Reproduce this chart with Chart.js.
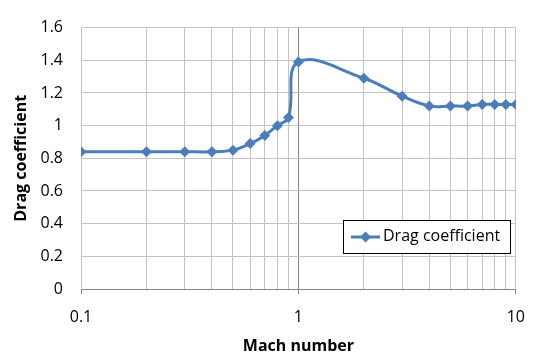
<!DOCTYPE html>
<html>
<head>
<meta charset="utf-8">
<script src="https://cdn.jsdelivr.net/npm/chart.js@4/dist/chart.umd.min.js"></script>
<style>
  html, body { margin: 0; padding: 0; background: #fff; }
  #wrap { width: 539px; height: 358px; }
</style>
</head>
<body>
<div id="wrap"><canvas id="dragChart" width="539" height="358"></canvas></div>
<script>
// Data
const machNumbers = [0.1, 0.2, 0.3, 0.4, 0.5, 0.6, 0.7, 0.8, 0.9, 1, 2, 3, 4, 5, 6, 7, 8, 9, 10];
const dragCoefficients = [0.84, 0.84, 0.84, 0.84, 0.85, 0.89, 0.94, 1.0, 1.05, 1.39, 1.29, 1.18, 1.12, 1.12, 1.12, 1.13, 1.13, 1.13, 1.13];
const xGridValues = [0.1, 0.2, 0.3, 0.4, 0.5, 0.6, 0.7, 0.8, 0.9, 1, 2, 3, 4, 5, 6, 7, 8, 9, 10];
const xLabelValues = [0.1, 1, 10];
const yTicks = [0, 0.2, 0.4, 0.6, 0.8, 1, 1.2, 1.4, 1.6];

const FONT = '"Open Sans", "Noto Sans", sans-serif';
const BLUE = '#4A7EBB';

// Legend box inside the plot, bottom right
const boxLegend = {
  id: 'boxLegend',
  afterDraw(chart) {
    const ctx = chart.ctx;
    const ds = chart.data.datasets[0];
    const x = 343, y = 220, w = 167, h = 33;
    ctx.save();
    ctx.fillStyle = '#fff';
    ctx.fillRect(x, y, w, h);
    ctx.strokeStyle = '#000';
    ctx.lineWidth = 1;
    ctx.strokeRect(x + 0.5, y + 0.5, w, h);
    ctx.strokeStyle = BLUE;
    ctx.lineWidth = 3;
    ctx.beginPath();
    ctx.moveTo(351, y + 17);
    ctx.lineTo(380, y + 17);
    ctx.stroke();
    ctx.fillStyle = BLUE;
    ctx.beginPath();
    ctx.moveTo(365.5, y + 11.5);
    ctx.lineTo(371, y + 17);
    ctx.lineTo(365.5, y + 22.5);
    ctx.lineTo(360, y + 17);
    ctx.closePath();
    ctx.fill();
    ctx.fillStyle = '#000';
    ctx.font = '16px ' + FONT;
    ctx.textBaseline = 'middle';
    ctx.fillText(ds.label, 383, y + 16);
    ctx.restore();
  }
};

const ctx = document.getElementById('dragChart').getContext('2d');
window.dragChart = new Chart(ctx, {
  type: 'line',
  data: {
    datasets: [{
      label: 'Drag coefficient',
      data: machNumbers.map((m, i) => ({ x: m, y: dragCoefficients[i] })),
      borderColor: BLUE,
      backgroundColor: BLUE,
      borderWidth: 3,
      pointStyle: 'rectRot',
      pointRadius: 5.5,
      pointBorderWidth: 0,
      tension: 0.4,
      fill: false
    }]
  },
  options: {
    responsive: false,
    animation: false,
    layout: { padding: { left: 0, right: 20, top: 15, bottom: 0 } },
    plugins: {
      legend: { display: false },
      tooltip: { enabled: false }
    },
    scales: {
      x: {
        type: 'logarithmic',
        min: 0.1,
        max: 10,
        afterBuildTicks: scale => {
          scale.ticks = xGridValues.map(v => ({ value: v }));
        },
        afterFit: scale => { scale.height = 69; },
        ticks: {
          autoSkip: false,
          maxRotation: 0,
          padding: 14,
          color: '#000',
          font: { family: FONT, size: 16 },
          callback: v => xLabelValues.includes(v) ? String(v) : ''
        },
        grid: {
          color: c => c.tick && c.tick.value === 1 ? '#7f7f7f' : '#c3c3c3',
          tickColor: c => c.tick && xLabelValues.includes(c.tick.value) ? '#868686' : 'rgba(0,0,0,0)',
          tickLength: 5,
          lineWidth: 1
        },
        border: { color: '#868686', width: 1 },
        title: {
          display: true,
          text: 'Mach number',
          color: '#000',
          font: { family: FONT, size: 16, weight: 'bold' },
          padding: { top: 0, bottom: 2 }
        }
      },
      y: {
        min: 0,
        max: 1.6,
        afterBuildTicks: scale => {
          scale.ticks = yTicks.map(v => ({ value: v }));
        },
        afterFit: scale => { scale.width = 81; },
        ticks: {
          padding: 18,
          color: '#000',
          font: { family: FONT, size: 16 },
          callback: v => String(Math.round(v * 10) / 10)
        },
        grid: {
          color: '#c3c3c3',
          lineWidth: 1,
          drawTicks: false
        },
        border: { display: false },
        title: {
          display: true,
          text: 'Drag coefficient',
          color: '#000',
          font: { family: FONT, size: 16, weight: 'bold' },
          padding: { top: 12, bottom: 0 }
        }
      }
    }
  },
  plugins: [boxLegend]
});
</script>
</body>
</html>
